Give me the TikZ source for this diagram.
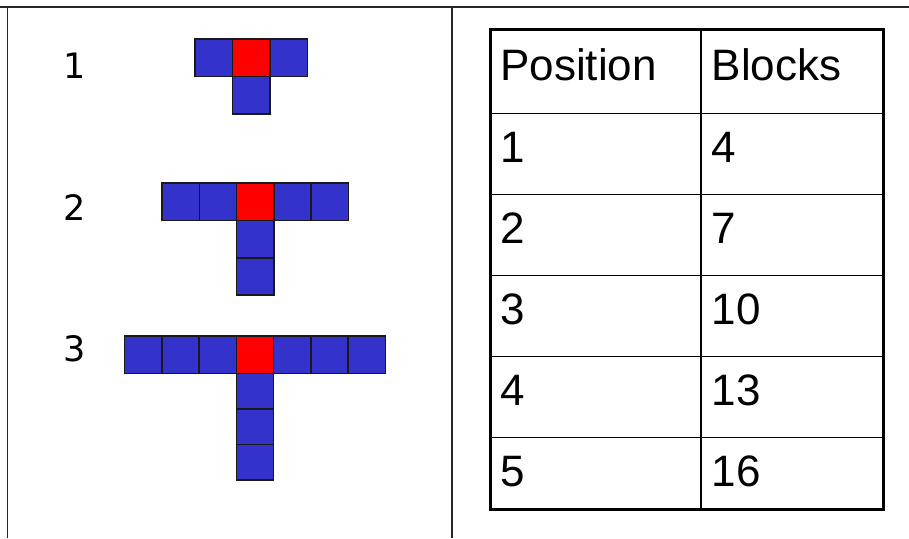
\documentclass[tikz,border=0pt]{standalone}
\usepackage{fontspec}
\newfontfamily\tabfont{Liberation Sans}
\newfontfamily\labfont{DejaVu Sans}
\definecolor{blockblue}{RGB}{51,51,204}
\definecolor{hubred}{RGB}{255,0,0}
\begin{document}
\begin{tikzpicture}[x=1pt,y=-1pt,
  cell/.style={draw=black!90,line width=1.6pt,fill=blockblue},
  hub/.style={cell,fill=hubred},
  stagelbl/.style={font=\labfont\fontsize{35}{40}\selectfont,inner sep=0pt},
  tabtxt/.style={font=\tabfont\fontsize{44}{52}\selectfont,inner sep=0pt,anchor=base west}]
  \useasboundingbox (0,0) rectangle (909,538);
  % outer frame, open on the right and at the bottom
  \draw[line width=1.6pt,black!85] (0,7) -- (909,7);
  \draw[line width=1.6pt,black!85] (7.5,7) -- (7.5,538);
  \draw[line width=1.6pt,black!85] (452,7) -- (452,538);
  % stage numbers
  \node[stagelbl] (lab1) at (74.5,66) {1};
  \node[stagelbl] (lab2) at (74.5,207.5) {2};
  \node[stagelbl] (lab3) at (74.5,349) {3};
  % stage 1: arms of one block
  \foreach \k in {-1,1}
    \draw[cell] (251.25+\k*37.5-18.75,39) rectangle ++(37.5,37.5);
  \draw[hub] (232.5,39) rectangle ++(37.5,37.5);
  \draw[cell] (232.5,76.5) rectangle ++(37.5,37.5);
  % stage 2: arms of two blocks
  \foreach \k in {-2,-1,1,2}
    \draw[cell] (255.3+\k*37.3-18.65,183.2) rectangle ++(37.3,37.3);
  \draw[hub] (236.65,183.2) rectangle ++(37.3,37.3);
  \foreach \j in {1,2}
    \draw[cell] (236.65,183.2+\j*37.3) rectangle ++(37.3,37.3);
  % stage 3: arms of three blocks
  \foreach \k in {-3,-2,-1,1,2,3}
    \draw[cell] (255+\k*37.3-18.65,336) rectangle ++(37.3,37.3);
  \draw[hub] (236.35,336) rectangle ++(37.3,37.3);
  \foreach \j in {0,1,2}
    \draw[cell] (236.35,373.3+\j*35.6) rectangle ++(37.3,35.6);
  % table
  \foreach \r in {0,...,4}
    \draw[line width=1.6pt] (490.5,113.5+\r*81) -- (883,113.5+\r*81);
  \draw[line width=1.6pt] (701,29) -- (701,509);
  \draw[line width=3pt] (490.5,29) rectangle (883,509);
  \node[tabtxt] (poshead) at (500,80) {Position};
  \node[tabtxt] (blkhead) at (711.5,80) {Blocks};
  \foreach \p/\b [count=\i] in {1/4,2/7,3/10,4/13,5/16} {
    \node[tabtxt] (pos\i) at (500,80.8+\i*81.2) {\p};
    \node[tabtxt] (blk\i) at (711.5,80.8+\i*81.2) {\b};
  }
\end{tikzpicture}
\end{document}
